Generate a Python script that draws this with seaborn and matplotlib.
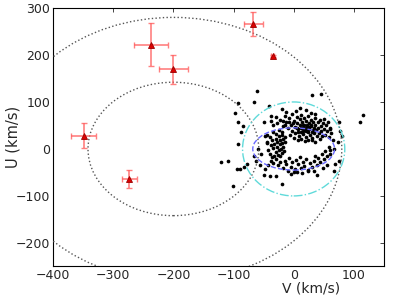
import numpy as np
import pandas as pd
import matplotlib
matplotlib.use("Agg")
import matplotlib.pyplot as plt
import seaborn as sns
from matplotlib.patches import Ellipse

# red objects with error bars (V, U, errV, errU)
red_V = [-237, -200, -67, -35, -349, -273]
red_U = [222, 170, 266, 198, 28, -64]
red_eV = [28, 24, 16, 2, 21, 12]
red_eU = [45, 31, 26, 2, 27, 20]

# black stars (V, U)
cloud = [
    # upper arc
    (-28, 55), (-22, 62), (-18, 48), (-15, 70), (-12, 58), (-10, 44), (-8, 66), (-5, 52), (-3, 38), (-2, 74),
    (0, 60), (2, 47), (3, 33), (5, 68), (6, 55), (8, 42), (9, 28), (10, 63), (11, 50), (12, 36),
    (13, 72), (14, 57), (15, 45), (16, 31), (17, 66), (18, 52), (19, 40), (20, 25), (21, 60), (22, 47),
    (23, 35), (24, 70), (25, 55), (26, 42), (27, 30), (28, 62), (29, 49), (30, 37), (31, 24), (32, 58),
    (33, 45), (34, 33), (35, 66), (36, 52), (37, 40), (38, 28), (40, 57), (41, 44), (42, 34), (44, 62),
    (45, 49), (46, 38), (48, 55), (50, 43), (52, 30), (54, 50), (56, 38), (58, 26), (-25, 40), (-20, 35),
    (-30, 68), (-35, 50), (-38, 60), (-6, 30), (1, 24), (7, 20), (13, 22), (19, 17), (24, 20), (30, 18),
    (36, 15), (43, 22), (47, 28), (60, 45), (62, 33), (65, 20), (-12, 78), (4, 80), (20, 82), (28, 76),
    (36, 74), (-20, 85), (10, 88), (15, 38), (18, 44), (22, 52), (25, 46), (20, 38), (16, 50), (12, 44),
    (24, 40), (28, 50), (32, 40), (8, 35), (5, 45), (-1, 55), (-7, 58), (-14, 52), (-18, 60),
    # left clump
    (-40, 25), (-36, 18), (-33, 10), (-30, 22), (-28, 5), (-27, 15), (-25, -2), (-24, 28), (-23, 10), (-22, 18),
    (-21, 0), (-20, -8), (-19, 12), (-18, 22), (-17, 5), (-16, -4), (-15, 15), (-30, -6), (-34, 2), (-38, 8),
    (-42, -2), (-26, -12), (-22, -15), (-32, -14), (-36, -18), (-40, -10), (-44, 12), (-45, 30), (-29, 32), (-35, 35),
    (-20, 30), (-14, 25),
    # lower arc
    (-38, -25), (-34, -30), (-30, -22), (-26, -35), (-22, -28), (-18, -40), (-15, -25), (-12, -33), (-8, -20), (-5, -38),
    (-2, -28), (2, -42), (4, -24), (7, -33), (10, -18), (12, -40), (15, -28), (18, -36), (21, -22), (24, -44),
    (27, -30), (30, -38), (33, -25), (36, -15), (38, -34), (41, -20), (44, -28), (47, -10), (50, -22), (52, -5),
    (55, -15), (58, 5), (60, -3), (-42, -35), (-48, -42), (-10, -48), (0, -50), (14, -52), (34, -48), (48, -40),
    # scattered
    (-61, 124), (31, 115), (45, 117), (-92, 98), (-66, 99), (-41, 92), (-97, 77), (-92, 57), (-85, 48), (-88, 35),
    (-92, 11), (-110, -25), (-121, -27), (-94, -43), (-89, -42), (-83, -39), (-101, -78), (-77, -32), (116, 72), (110, 58),
    (75, 57), (77, 39), (80, 28), (73, 14), (67, 0), (76, -25), (69, -33), (67, -46), (39, -55), (23, -48),
    (-20, -74), (-50, -55), (-40, -58), (-30, -58), (-5, -53), (6, -50), (56, -35), (61, -11), (50, 64), (57, 57),
    (61, 43), (-60, 0), (-66, -14), (-63, -25), (-56, -35), (-55, -11), (-44, 14), (-47, 28), (-50, 57), (-38, 71),
]
cloud_V = [p[0] for p in cloud]
cloud_U = [p[1] for p in cloud]

# reference curves: centre V, centre U, full width, full height, style, colour
curve_cV = [-200, -200, 0, 0]
curve_cU = [0, 0, 0, 0]
curve_w = [560, 284, 170, 136]
curve_h = [560, 284, 200, 90]
curve_ls = [':', ':', '-.', '--']
curve_col = ['#555555', '#555555', '#60dada', '#6a6aff']

df = pd.DataFrame({'V': cloud_V, 'U': cloud_U})

sns.set_style("white")
plt.rcParams['font.family'] = ['DejaVu Sans']

fig = plt.figure(figsize=(4.15, 2.96), dpi=100)
ax = fig.add_axes([0.128, 0.1, 0.797, 0.873])

for cv, cu, w, h, ls, col in zip(curve_cV, curve_cU, curve_w, curve_h, curve_ls, curve_col):
    ax.add_patch(Ellipse((cv, cu), w, h, fill=False, ls=ls, ec=col, lw=1, zorder=4))

sns.scatterplot(data=df, x='V', y='U', color='black', s=7, linewidth=0, ax=ax, zorder=3)

ax.errorbar(red_V, red_U, xerr=red_eV, yerr=red_eU, fmt='none', ecolor='#ff6060',
            elinewidth=1.2, capsize=2.5, alpha=0.8, zorder=5)
ax.plot(red_V, red_U, '^', color='#dd0000', mec='#990000', ms=4, mew=0.6, ls='none', zorder=6)

ax.set_xlim(-400, 150)
ax.set_ylim(-250, 300)
ax.set_xticks([-400, -300, -200, -100, 0, 100])
ax.set_yticks([-200, -100, 0, 100, 200, 300])
ax.set_xlabel('V (km/s)', fontsize=10)
ax.set_ylabel('U (km/s)', fontsize=10.5)
ax.xaxis.set_label_coords(0.78, -0.058)
ax.yaxis.set_label_coords(-0.1, 0.5)
ax.tick_params(direction='in', top=True, right=True, labelsize=9, length=3, width=0.6, pad=2)
for spine in ax.spines.values():
    spine.set_linewidth(0.8)
    spine.set_color('black')

fig.savefig('out.png', dpi=100)
